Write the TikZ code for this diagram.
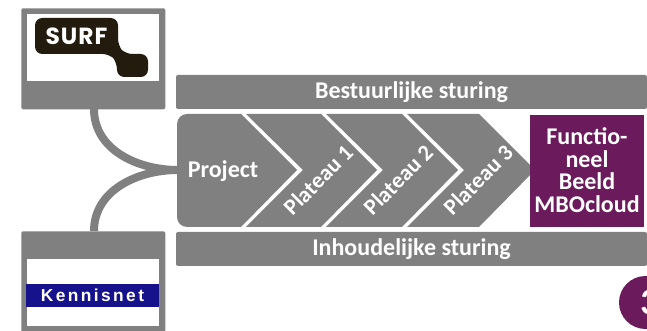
\documentclass[tikz,border=0pt]{standalone}
\usepackage{fontspec}
\setmainfont{Carlito}
\newfontfamily\logofont{Poppins}
\newfontfamily\netfont{Liberation Sans}
\definecolor{bargrey}{RGB}{128,128,128}
\definecolor{plum}{RGB}{107,26,92}
\definecolor{logodark}{RGB}{35,28,14}
\definecolor{netblue}{RGB}{22,18,140}
\tikzset{
  bar/.style={fill=bargrey,draw=none,rounded corners=1.5pt,minimum width=353.25pt,minimum height=25.5pt,inner sep=0pt,text=white,font=\fontsize{18}{20}\selectfont\bfseries},
  logobox/.style={fill=bargrey,draw=none,rounded corners=1.5pt,minimum width=108pt,minimum height=75.75pt,inner sep=0pt,anchor=north west},
  logopane/.style={fill=white,draw=none,minimum width=99pt,minimum height=50.25pt,inner sep=0pt,anchor=north west},
  stage/.style={fill=bargrey,draw=none},
  stagetext/.style={text=white,inner sep=0pt,font=\fontsize{18}{20}\selectfont\bfseries},
  platlabel/.style={text=white,inner sep=0pt,rotate=45,font=\fontsize{17}{19}\selectfont\bfseries},
  link/.style={draw=bargrey,line width=6pt},
}
\begin{document}
\begin{tikzpicture}[x=0.75pt,y=-0.75pt]
\useasboundingbox (0,0) rectangle (647,331);
% logo boxes
\node[logobox] (surfbox) at (21,8) {};
\node[logopane] (surfpane) at (27,14) {};
\node[logobox] (kennisbox) at (21,231) {};
\node[logopane] (kennispane) at (27,259) {};
\fill[logodark,rounded corners=5.5pt] (35,18) -- (118,18) -- (118,46) -- (125,54) -- (148,54) -- (148,77) -- (117,77) -- (117,62) -- (110,54) -- (35,54) -- cycle;
\node[text=white,inner sep=0pt,font=\logofont\fontsize{17.5}{19}\selectfont\bfseries] (surflabel) at (76.5,36) {\addfontfeature{LetterSpace=4}SURF};
\node[fill=netblue,text=white,inner sep=0pt,minimum width=99.75pt,minimum height=17.25pt,font=\netfont\fontsize{13}{14}\selectfont\bfseries] (kennisnet) at (92.5,295.5) {\addfontfeature{LetterSpace=14}Kennisnet};
% bars
\node[bar] (bestuur) at (411.5,92) {Bestuurlijke sturing};
\node[bar] (inhoud) at (411.5,249) {Inhoudelijke sturing};
% chevrons
\fill[stage] (187,114) -- (241,114) -- (297,170) -- (241,227) -- (187,227) arc[start angle=90,end angle=180,radius=10] -- (177,124) arc[start angle=180,end angle=270,radius=10] -- cycle;
\fill[stage] (246,114) -- (321,114) -- (377,170) -- (321,227) -- (246,227) -- (303,170) -- cycle;
\fill[stage] (326,114) -- (402,114) -- (458,170) -- (402,227) -- (326,227) -- (383,170) -- cycle;
\fill[stage] (407,114) -- (479,114) -- (535,170) -- (479,227) -- (407,227) -- (464,170) -- cycle;
\node[fill=plum,text=white,inner sep=0pt,minimum width=85.5pt,minimum height=84pt,align=center,font=\fontsize{18}{17}\selectfont\bfseries] (beeld) at (587,171) {\raisebox{1.2pt}{Functio-}\\\raisebox{1.2pt}{neel}\\\raisebox{1.2pt}{Beeld}\\\raisebox{1.2pt}{MBOcloud}};
\node[stagetext] (project) at (223,171) {Project};
\node[platlabel] (plateau1) at (318,180) {Plateau 1};
\node[platlabel] (plateau2) at (398,180) {Plateau 2};
\node[platlabel] (plateau3) at (478,180) {Plateau 3};
% connectors
\coordinate (surfout) at (94,109);
\coordinate (kennisout) at (94,231);
\coordinate (projectin) at (178,170);
\draw[link] (surfout) to[out=-90,in=180] (projectin);
\draw[link] (kennisout) to[out=90,in=180] (projectin);
% page number
\node[circle,fill=plum,text=white,minimum size=39.75pt,inner sep=0pt,font=\fontsize{28}{30}\selectfont\bfseries] (pagenr) at (645.5,302.5) {\kern6.8pt 3};
\end{tikzpicture}
\end{document}
